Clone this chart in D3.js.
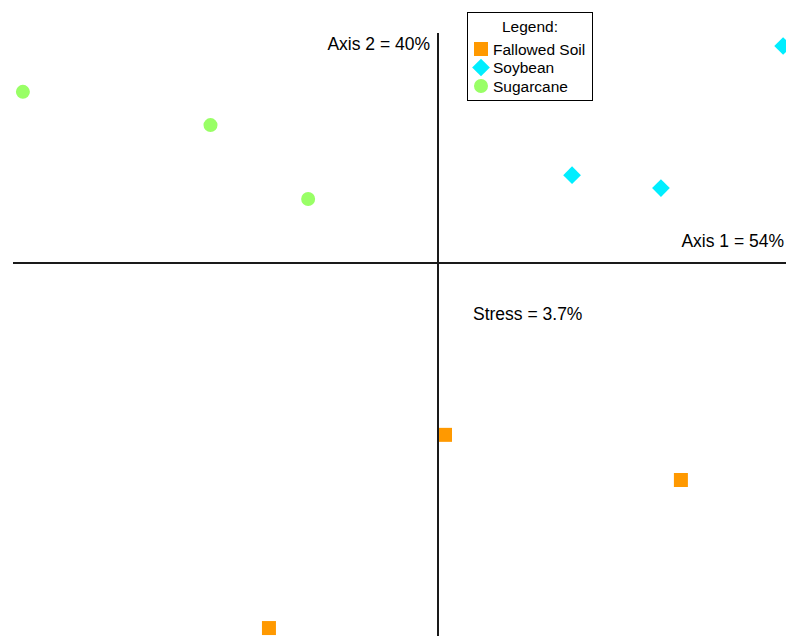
<!DOCTYPE html>
<html>
<head>
<meta charset="utf-8">
<script src="https://cdn.jsdelivr.net/npm/d3@7"></script>
<style>
  html, body { margin: 0; padding: 0; background: #fff; }
  svg { display: block; }
  text { font-family: "Liberation Sans", Arial, sans-serif; fill: #000; }
</style>
</head>
<body>
<svg id="chart" width="786" height="636"></svg>
<script>
// NMDS ordination scores (axis 1, axis 2) per sample
const groups = ["Fallowed Soil", "Soybean", "Sugarcane"];
const fallowedX = [0.020, 0.694, -0.483];
const fallowedY = [-0.491, -0.620, -1.043];
const soybeanX = [0.383, 0.637, 0.986];
const soybeanY = [0.251, 0.214, 0.620];
const sugarcaneX = [-1.186, -0.650, -0.371];
const sugarcaneY = [0.489, 0.394, 0.183];
const axisLabels = ["Axis 1 = 54%", "Axis 2 = 40%"];
const stressLabel = "Stress = 3.7%";

const colors = { "Fallowed Soil": "#ff9900", "Soybean": "#00eeff", "Sugarcane": "#99ff66" };
const shapes = { "Fallowed Soil": d3.symbolSquare, "Soybean": d3.symbolDiamond2, "Sugarcane": d3.symbolCircle };
const sizes = { "Fallowed Soil": 196, "Soybean": 200, "Sugarcane": 154 };

const svg = d3.select("#chart");

const x = d3.scaleLinear().domain([-1.0, 1.0]).range([88, 788]);
const y = d3.scaleLinear().domain([-1.0, 1.0]).range([613, -87]);

const points = [];
const add = (g, xs, ys) => xs.forEach((v, i) => points.push({ group: g, x: v, y: ys[i] }));
add("Fallowed Soil", fallowedX, fallowedY);
add("Soybean", soybeanX, soybeanY);
add("Sugarcane", sugarcaneX, sugarcaneY);

// sample markers
svg.append("g").selectAll("path")
  .data(points)
  .join("path")
  .attr("transform", d => `translate(${x(d.x)},${y(d.y)})`)
  .attr("d", d => d3.symbol().type(shapes[d.group]).size(sizes[d.group])())
  .attr("fill", d => colors[d.group]);

// axes through the origin
const axes = svg.append("g").attr("stroke", "#1a1a1a").attr("stroke-width", 2);
axes.append("line")
  .attr("x1", 13).attr("x2", 786)
  .attr("y1", y(0)).attr("y2", y(0));
axes.append("line")
  .attr("x1", x(0)).attr("x2", x(0))
  .attr("y1", 33).attr("y2", 636);

// axis captions
svg.append("text")
  .attr("x", 784).attr("y", y(0) - 16)
  .attr("text-anchor", "end")
  .attr("font-size", 17.5)
  .text(axisLabels[0]);
svg.append("text")
  .attr("x", x(0) - 8).attr("y", 50)
  .attr("text-anchor", "end")
  .attr("font-size", 17.5)
  .text(axisLabels[1]);
svg.append("text")
  .attr("x", 473).attr("y", 320)
  .attr("font-size", 17.5)
  .text(stressLabel);

// legend
const lg = svg.append("g").attr("transform", "translate(467,12)");
lg.append("rect")
  .attr("x", 0.5).attr("y", 0.5)
  .attr("width", 125).attr("height", 88)
  .attr("fill", "#fff").attr("stroke", "#000").attr("stroke-width", 1);
lg.append("text")
  .attr("x", 63).attr("y", 20)
  .attr("text-anchor", "middle")
  .attr("font-size", 15.5)
  .text("Legend:");
groups.forEach((g, i) => {
  const cy = 37 + i * 18.5;
  lg.append("path")
    .attr("transform", `translate(14,${cy})`)
    .attr("d", d3.symbol().type(shapes[g]).size(sizes[g])())
    .attr("fill", colors[g]);
  lg.append("text")
    .attr("x", 26).attr("y", cy + 5.5)
    .attr("font-size", 15.5)
    .text(g);
});
</script>
</body>
</html>
